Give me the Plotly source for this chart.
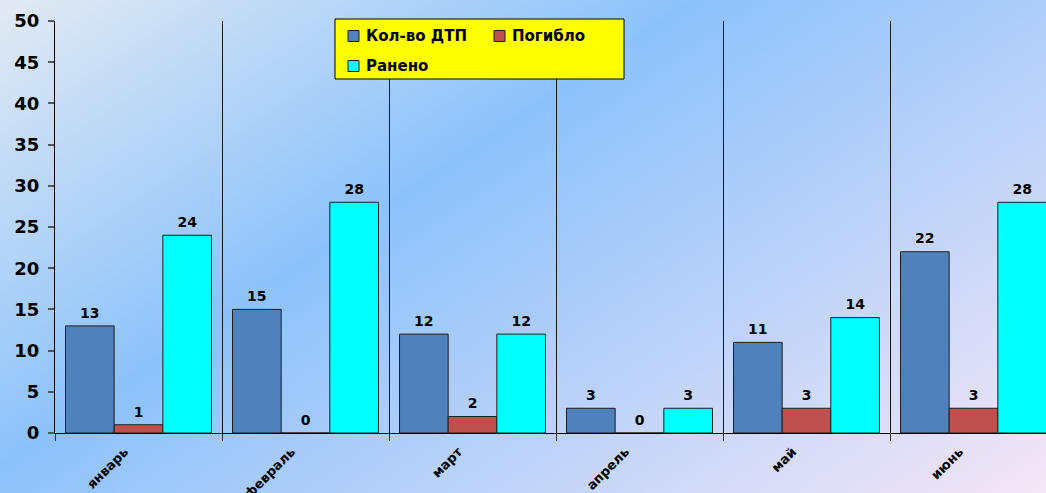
import base64
import plotly.graph_objects as go

months = ["январь", "февраль", "март", "апрель", "май", "июнь"]
series_names = ["Кол-во ДТП", "Погибло", "Ранено"]
dtp = [13, 15, 12, 3, 11, 22]
killed = [1, 0, 2, 0, 3, 3]
injured = [24, 28, 12, 3, 14, 28]
colors = ["#4f81bd", "#c0504d", "#00ffff"]
y_ticks = list(range(0, 51, 5))

W, H = 1046, 493
ML, MR, MT, MB = 55, 0, 21, 60
PW, PH = W - ML - MR, H - MT - MB
cat_px = 167.0
GAP = 0.126

xs = list(range(len(months)))
font_family = "DejaVu Sans"

fig = go.Figure()
for i, (name, vals, col) in enumerate(zip(series_names, [dtp, killed, injured], colors)):
    fig.add_trace(go.Bar(
        x=xs, y=vals, name=name, offsetgroup=str(i), alignmentgroup="g",
        marker=dict(color=col, line=dict(color="#1e1e1e", width=1)),
        showlegend=False,
    ))
for i, (name, vals) in enumerate(zip(series_names, [dtp, killed, injured])):
    fig.add_trace(go.Scatter(
        x=xs, y=vals, name=name, offsetgroup=str(i), alignmentgroup="g",
        mode="markers+text", text=[str(v) for v in vals], textposition="top center",
        marker=dict(size=6, opacity=0),
        textfont=dict(family=font_family, size=14, color="black", weight="bold"),
        cliponaxis=False, showlegend=False, hoverinfo="skip",
    ))

svg = f'''<svg xmlns="http://www.w3.org/2000/svg" width="{W}" height="{H}">
<defs><linearGradient id="g" gradientUnits="userSpaceOnUse" x1="0" y1="0" x2="553" y2="824">
<stop offset="0" stop-color="#e3eaf3"/>
<stop offset="0.39" stop-color="#8cc2fb"/>
<stop offset="1" stop-color="#f5e6f6"/>
</linearGradient></defs>
<rect width="{W}" height="{H}" fill="url(#g)"/></svg>'''
src = "data:image/svg+xml;base64," + base64.b64encode(svg.encode()).decode()

def px_x(px):
    return (px - ML) / PW

def px_y(py):
    return (H - MB - py) / PH

shapes = []
annotations = []
shapes.append(dict(type="rect", xref="paper", yref="paper",
                   x0=px_x(335), x1=px_x(624), y0=px_y(79), y1=px_y(19),
                   fillcolor="#ffff00", line=dict(color="black", width=1), layer="above"))
legend_pos = [(348, 36), (494, 36), (348, 66)]
for (lx, ly), name, col in zip(legend_pos, series_names, colors):
    shapes.append(dict(type="rect", xref="paper", yref="paper",
                       x0=px_x(lx), x1=px_x(lx + 11), y0=px_y(ly + 5.5), y1=px_y(ly - 5.5),
                       fillcolor=col, line=dict(color="#1e1e1e", width=1), layer="above"))
    annotations.append(dict(xref="paper", yref="paper", x=px_x(lx + 16), y=px_y(ly),
                            text=name, showarrow=False, xanchor="left", yanchor="middle",
                            font=dict(family=font_family, size=15, color="black", weight="bold")))

x_end = -0.5 + PW / cat_px

fig.update_layout(
    width=W, height=H,
    margin=dict(l=ML, r=MR, t=MT, b=MB, pad=0, autoexpand=False),
    paper_bgcolor="#a8cdf5", plot_bgcolor="rgba(0,0,0,0)",
    barmode="group", bargap=GAP, bargroupgap=0,
    scattermode="group", scattergap=GAP,
    showlegend=False,
    images=[dict(source=src, xref="paper", yref="paper",
                 x=-ML / PW, y=1 + MT / PH, sizex=W / PW, sizey=H / PH,
                 xanchor="left", yanchor="top", sizing="stretch", layer="below")],
    shapes=shapes, annotations=annotations,
    xaxis=dict(
        range=[-0.5, x_end], tickmode="array", tickvals=xs, ticktext=months,
        tickangle=-45, ticks="", showgrid=False, zeroline=False, automargin=False,
        showline=True, linecolor="black", linewidth=1.2,
        ticklabelstandoff=5, ticklabelshift=-14,
        tickfont=dict(family=font_family, size=13, color="black", weight="bold"),
        minor=dict(tickmode="array", tickvals=[i - 0.5 for i in range(len(months) + 1)],
                   showgrid=True, gridcolor="#1a1a1a", gridwidth=1.2,
                   ticks="outside", ticklen=7, tickcolor="#333", tickwidth=1.2),
    ),
    yaxis=dict(
        range=[0, 50], tickmode="array", tickvals=y_ticks, automargin=False,
        ticks="outside", ticklen=6, tickcolor="#555", tickwidth=1.5,
        showline=True, linecolor="black", linewidth=1.2,
        showgrid=False, zeroline=False, ticklabelstandoff=5,
        tickfont=dict(family=font_family, size=18, color="black", weight="bold"),
    ),
)

fig.write_html("out.html", config={"displayModeBar": False},
               post_script="document.body.style.margin='0';document.body.style.padding='0';document.body.style.overflow='hidden';")
